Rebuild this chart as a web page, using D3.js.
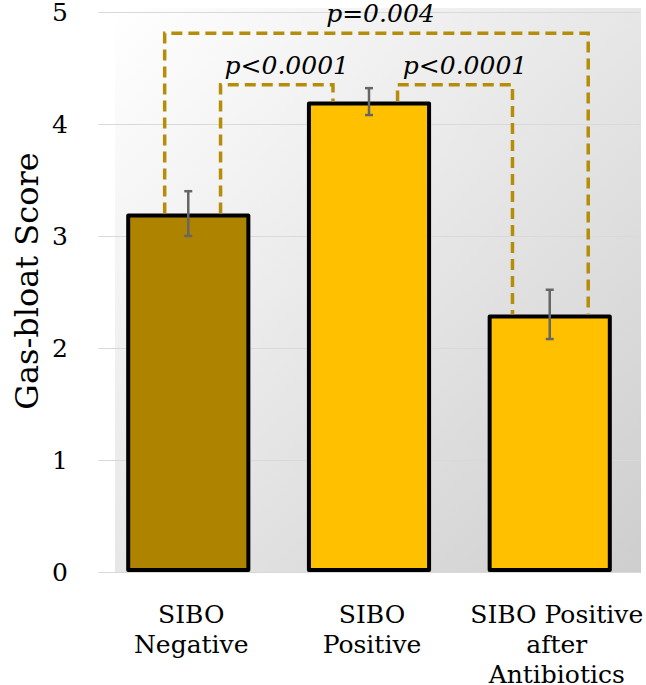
<!DOCTYPE html>
<html lang="en">
<head>
    <meta charset="UTF-8">
    <title>Gas-bloat Score</title>
    <style>
        body { margin: 0; background: #fff; }
        text { font-family: "DejaVu Serif", "Liberation Serif", serif; fill: #000; }
    </style>
</head>
<body>
    <svg id="chart" width="646" height="685"></svg>
    <script src="https://d3js.org/d3.v7.min.js"></script>
    <script>
        // data
        var categories = ["SIBO Negative", "SIBO Positive", "SIBO Positive after Antibiotics"];
        var categoryLines = [["SIBO", "Negative"], ["SIBO", "Positive"], ["SIBO Positive", "after", "Antibiotics"]];
        var scores = [3.2, 4.2, 2.3];
        var errors = [0.2, 0.12, 0.22];
        var barColors = ["#ae8300", "#ffc000", "#ffc000"];
        var yTicks = [0, 1, 2, 3, 4, 5];
        // significance brackets: from bar, to bar, bracket height (score units), label
        var bracketFrom = [0, 0, 1];
        var bracketTo = [2, 1, 2];
        var bracketLevel = [4.81, 4.35, 4.35];
        var bracketLabels = ["p=0.004", "p<0.0001", "p<0.0001"];

        var svg = d3.select("#chart");
        var plotLeft = 98, plotRight = 640, plotTop = 12, plotBottom = 572;

        var x = d3.scaleBand()
                  .domain(categories)
                  .range([plotLeft, plotRight])
                  .paddingInner(0.313)
                  .paddingOuter(0.156);

        var y = d3.scaleLinear()
                  .domain([0, 5])
                  .range([plotBottom, plotTop]);

        // plot area background
        var defs = svg.append("defs");
        var grad = defs.append("linearGradient")
                       .attr("id", "bg")
                       .attr("x1", 0).attr("y1", 0)
                       .attr("x2", 1).attr("y2", 1);
        grad.append("stop").attr("offset", "0%").attr("stop-color", "#ffffff");
        grad.append("stop").attr("offset", "100%").attr("stop-color", "#cecece");

        svg.append("rect")
           .attr("x", 115)
           .attr("y", 8)
           .attr("width", 641 - 115)
           .attr("height", plotBottom + 1 - 8)
           .attr("fill", "url(#bg)");

        // gridlines
        svg.append("g")
           .attr("transform", "translate(" + plotLeft + ",0)")
           .call(d3.axisLeft(y).tickValues(yTicks).tickSize(-(plotRight - plotLeft)).tickFormat(""))
           .call(function(g) { g.select(".domain").remove(); })
           .selectAll("line")
           .attr("stroke", "#d9d9d9")
           .attr("stroke-width", 1.2);

        // y tick labels
        svg.append("g")
           .attr("transform", "translate(" + plotLeft + ",0)")
           .call(d3.axisLeft(y).tickValues(yTicks).tickSize(0).tickPadding(30).tickFormat(d3.format("d")))
           .call(function(g) { g.select(".domain").remove(); })
           .selectAll("text")
           .style("font-family", "DejaVu Serif")
           .style("font-size", "25px")
           .attr("fill", "#000");

        // y axis title
        svg.append("text")
           .attr("transform", "translate(38,281) rotate(-90)")
           .attr("text-anchor", "middle")
           .style("font-size", "32px")
           .text("Gas-bloat Score");

        // bars
        var sw = 4;
        svg.selectAll(".bar")
           .data(scores)
           .enter().append("rect")
           .attr("class", "bar")
           .attr("x", function(d, i) { return x(categories[i]) + sw / 2; })
           .attr("y", function(d) { return y(d) + sw / 2; })
           .attr("width", x.bandwidth() - sw)
           .attr("height", function(d) { return y(0) - y(d) - sw; })
           .attr("fill", function(d, i) { return barColors[i]; })
           .attr("stroke", "#000")
           .attr("stroke-width", sw)
           .attr("stroke-linejoin", "round");

        // error bars
        var eb = svg.append("g").attr("stroke", "#666").attr("stroke-width", 2.5);
        scores.forEach(function(d, i) {
            var cx = x(categories[i]) + x.bandwidth() / 2;
            eb.append("line")
              .attr("x1", cx).attr("x2", cx)
              .attr("y1", y(d + errors[i])).attr("y2", y(d - errors[i]));
            [d + errors[i], d - errors[i]].forEach(function(v) {
                eb.append("line")
                  .attr("x1", cx - 4).attr("x2", cx + 4)
                  .attr("y1", y(v)).attr("y2", y(v));
            });
        });

        // significance brackets (end offsets as fraction of bar width from bar centre)
        var fromOff = [-0.19, 0.26, 0.23];
        var toOff = [0.31, -0.29, -0.3];
        var labelShift = [4, 10, 10];
        bracketLabels.forEach(function(lab, i) {
            var a = bracketFrom[i], b = bracketTo[i];
            var bw = x.bandwidth();
            var x1 = x(categories[a]) + bw / 2 + fromOff[i] * bw;
            var x2 = x(categories[b]) + bw / 2 + toOff[i] * bw;
            var yl = y(bracketLevel[i]);
            var path = d3.path();
            path.moveTo(x1, y(scores[a]));
            path.lineTo(x1, yl);
            path.lineTo(x2, yl);
            path.lineTo(x2, y(scores[b]));
            svg.append("path")
               .attr("d", path.toString())
               .attr("fill", "none")
               .attr("stroke", "#b68d08")
               .attr("stroke-width", 3.5)
               .attr("stroke-dasharray", "11,6");
            svg.append("text")
               .attr("x", (x1 + x2) / 2 + labelShift[i])
               .attr("y", yl - 11)
               .attr("text-anchor", "middle")
               .style("font-size", "25px")
               .style("font-style", "italic")
               .text(lab);
        });

        // category labels
        categoryLines.forEach(function(lines, i) {
            var t = svg.append("text")
                       .attr("y", 623)
                       .attr("text-anchor", "middle")
                       .style("font-size", "25px");
            lines.forEach(function(l, j) {
                t.append("tspan")
                 .attr("x", x(categories[i]) + x.bandwidth() / 2 + (i === 2 ? 7 : 3))
                 .attr("dy", j === 0 ? 0 : 30)
                 .text(l);
            });
        });
    </script>
</body>
</html>
